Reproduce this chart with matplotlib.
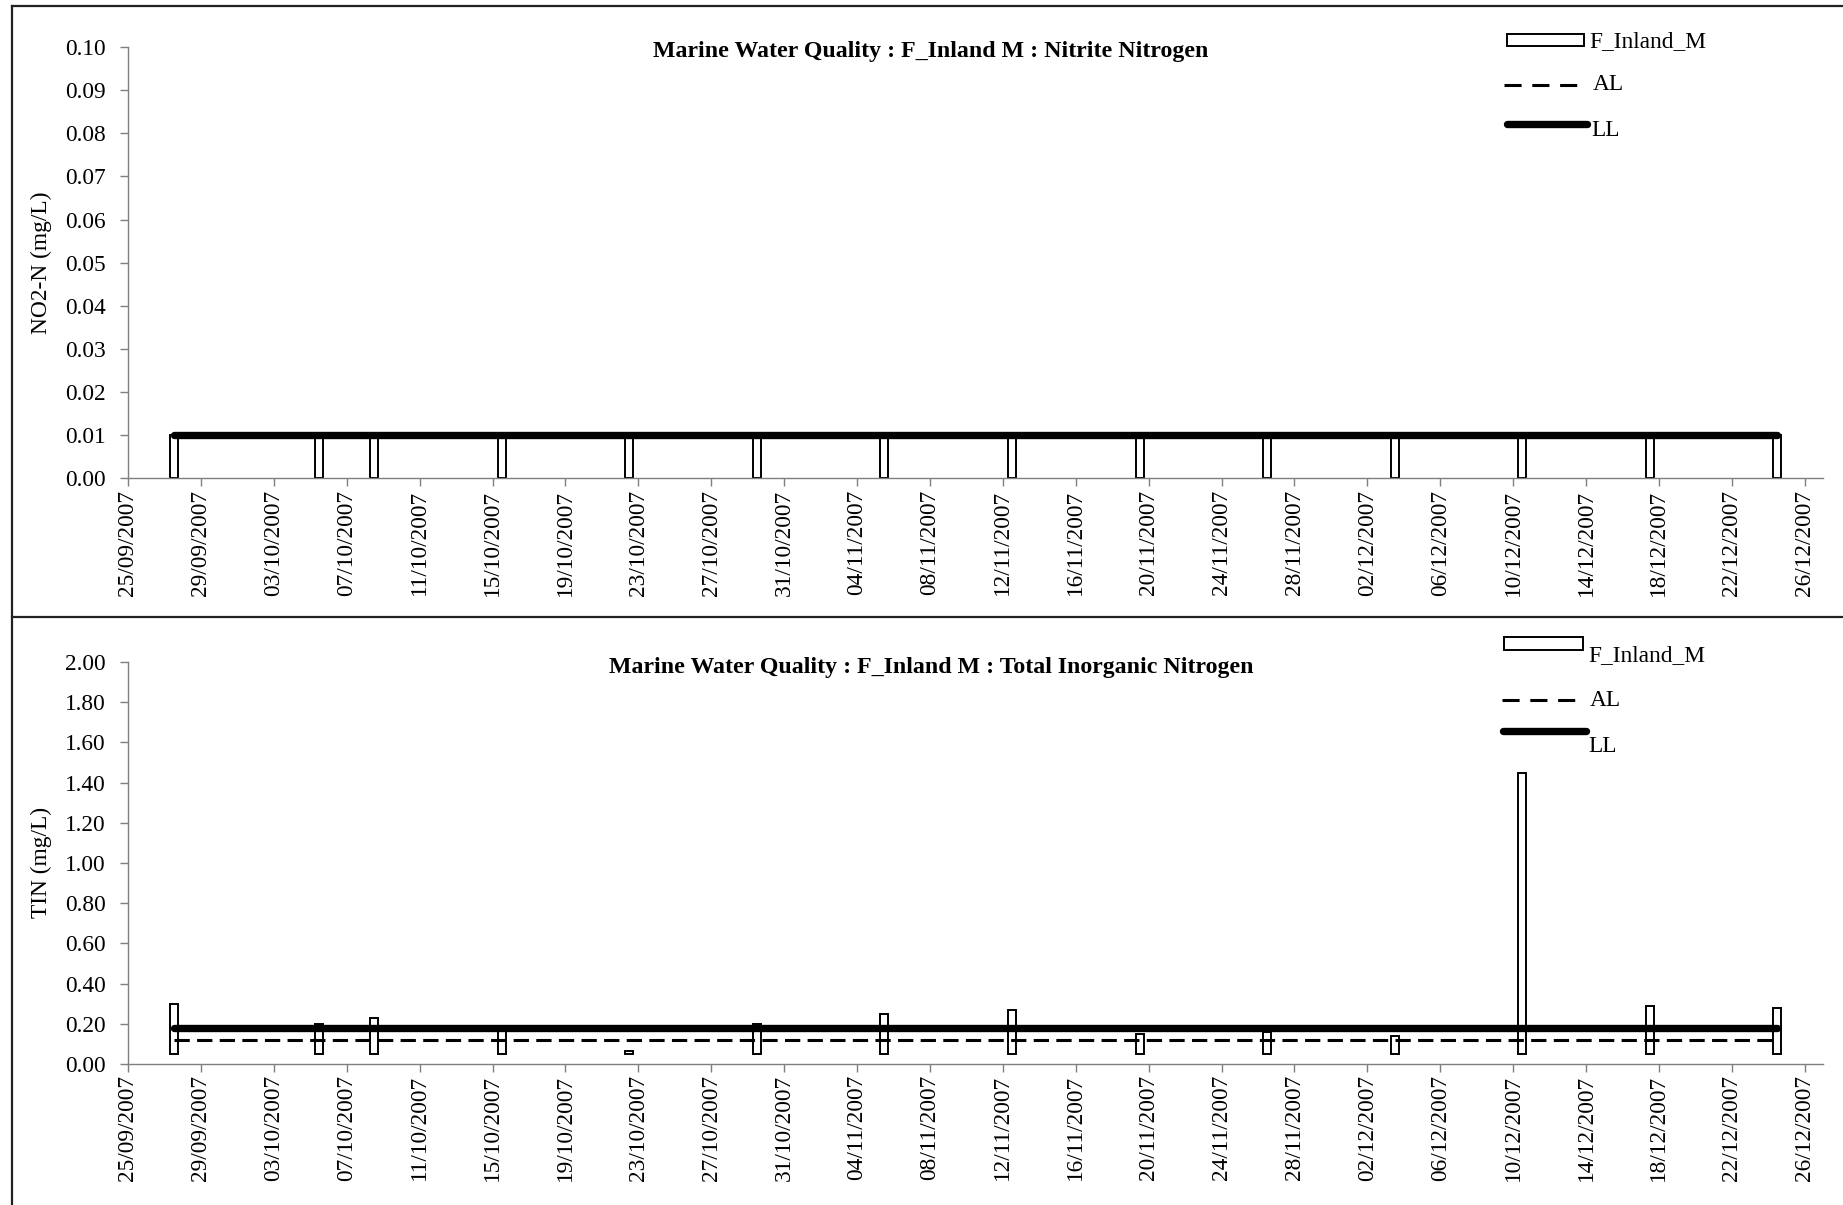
import numpy as np
import pandas as pd
import matplotlib
matplotlib.use('Agg')
from matplotlib import pyplot as plt
from matplotlib import dates as mdates
from matplotlib.lines import Line2D
from matplotlib.patches import Rectangle

plt.rcParams['font.family'] = ['Liberation Serif', 'DejaVu Serif']

# sampling dates (both panels)
dates = ['27/09/2007', '05/10/2007', '08/10/2007', '15/10/2007', '22/10/2007',
         '29/10/2007', '05/11/2007', '12/11/2007', '19/11/2007', '26/11/2007',
         '03/12/2007', '10/12/2007', '17/12/2007', '24/12/2007']

# nitrite nitrogen (mg/L)
no2 = [0.01, 0.01, 0.01, 0.01, 0.01, 0.01, 0.01,
       0.01, 0.01, 0.01, 0.01, 0.01, 0.01, 0.01]
no2_base = 0.0
no2_al = 0.01
no2_ll = 0.01

# total inorganic nitrogen (mg/L)
tin = [0.30, 0.20, 0.23, 0.19, 0.065, 0.20, 0.25,
       0.27, 0.15, 0.16, 0.14, 1.45, 0.29, 0.28]
tin_base = 0.05
tin_al = 0.12
tin_ll = 0.18

W, H = 1843, 1205
fig = plt.figure(figsize=(W / 100, H / 100), dpi=100)

FS = 16.8


def fx(px):
    return px / W


def fy(py):
    return 1 - py / H


x_dates = mdates.date2num(pd.to_datetime(dates, dayfirst=True))
x = x_dates + 0.5
xmin = mdates.date2num(pd.Timestamp('2007-09-25'))
xmax = mdates.date2num(pd.Timestamp('2007-12-27'))
xticks = mdates.date2num(pd.date_range('2007-09-25', '2007-12-26', freq='4D'))

grey = '#7f7f7f'


def panel(top_px, bot_px, vals, base, al, ll, ymax, ystep):
    ax = fig.add_axes([fx(128), fy(bot_px), fx(1823) - fx(128), fy(top_px) - fy(bot_px)])
    v = np.array(vals)
    ax.bar(x, v - base, bottom=base, width=0.44, facecolor='white',
           edgecolor='black', linewidth=1.4, zorder=2)
    ax.plot(x, np.full(len(x), al), color='black', lw=2.2, dashes=(5, 2.4), zorder=3)
    ax.plot(x, np.full(len(x), ll), color='black', lw=5.3,
            solid_capstyle='round', zorder=4)
    ax.set_xlim(xmin, xmax)
    ax.set_ylim(0, ymax)
    ax.set_yticks(np.arange(0, ymax + ystep / 2, ystep))
    ax.yaxis.set_major_formatter(matplotlib.ticker.FormatStrFormatter('%.2f'))
    ax.set_xticks(xticks)
    ax.xaxis.set_major_formatter(mdates.DateFormatter('%d/%m/%Y'))
    for lab in ax.get_xticklabels():
        lab.set_rotation(90)
    ax.tick_params(axis='both', direction='out', length=6, width=1, color=grey,
                   labelsize=FS)
    ax.tick_params(axis='x', pad=2)
    ax.tick_params(axis='y', pad=10)
    for s in ['top', 'right']:
        ax.spines[s].set_visible(False)
    for s in ['left', 'bottom']:
        ax.spines[s].set_color(grey)
        ax.spines[s].set_linewidth(1)
    ax.set_facecolor('none')
    return ax


ax1 = panel(47, 478.4, no2, no2_base, no2_al, no2_ll, 0.10, 0.01)
ax2 = panel(662, 1064, tin, tin_base, tin_al, tin_ll, 2.00, 0.20)

# titles and axis labels
fig.text(fx(931), fy(52), 'Marine Water Quality : F_Inland M : Nitrite Nitrogen',
         ha='center', va='center', fontsize=17.2, fontweight='bold')
fig.text(fx(931), fy(667), 'Marine Water Quality : F_Inland M : Total Inorganic Nitrogen',
         ha='center', va='center', fontsize=17.2, fontweight='bold')
fig.text(fx(41), fy(263), 'NO2-N (mg/L)', rotation=90, ha='center', va='center',
         fontsize=FS)
fig.text(fx(41), fy(862), 'TIN (mg/L)', rotation=90, ha='center', va='center',
         fontsize=FS)


# legends
def legend(box, t1, al_y, al_x, t2, ll_y, ll_x, t3):
    x0, x1, y0, y1 = box
    fig.add_artist(Rectangle((fx(x0), fy(y1)), fx(x1) - fx(x0), fy(y0) - fy(y1),
                             transform=fig.transFigure, facecolor='white',
                             edgecolor='black', lw=1.4))
    fig.text(fx(t1[0]), fy(t1[1]), 'F_Inland_M', ha='left', va='center', fontsize=FS)
    fig.add_artist(Line2D([fx(al_x[0]), fx(al_x[1])], [fy(al_y), fy(al_y)],
                          transform=fig.transFigure, color='black', lw=2.2,
                          dashes=(5.6, 3.5)))
    fig.text(fx(t2[0]), fy(t2[1]), 'AL', ha='left', va='center', fontsize=FS)
    fig.add_artist(Line2D([fx(ll_x[0]), fx(ll_x[1])], [fy(ll_y), fy(ll_y)],
                          transform=fig.transFigure, color='black', lw=5.3,
                          solid_capstyle='round'))
    fig.text(fx(t3[0]), fy(t3[1]), 'LL', ha='left', va='center', fontsize=FS)


legend((1507, 1584, 34, 46), (1589, 42), 85, (1504, 1579), (1593, 85),
       124, (1507, 1587), (1591, 131))
legend((1504, 1583, 637, 650), (1588, 656), 700, (1502, 1576), (1590, 700),
       731, (1503, 1586), (1588, 746))

# chart borders
for seg in [([12, 12], [6, H]), ([12, W], [6, 6]), ([12, W], [617, 617])]:
    fig.add_artist(Line2D([fx(p) for p in seg[0]], [fy(p) for p in seg[1]],
                          transform=fig.transFigure, color='#222222', lw=1.6))

fig.savefig('out.png', dpi=100, facecolor='white')
